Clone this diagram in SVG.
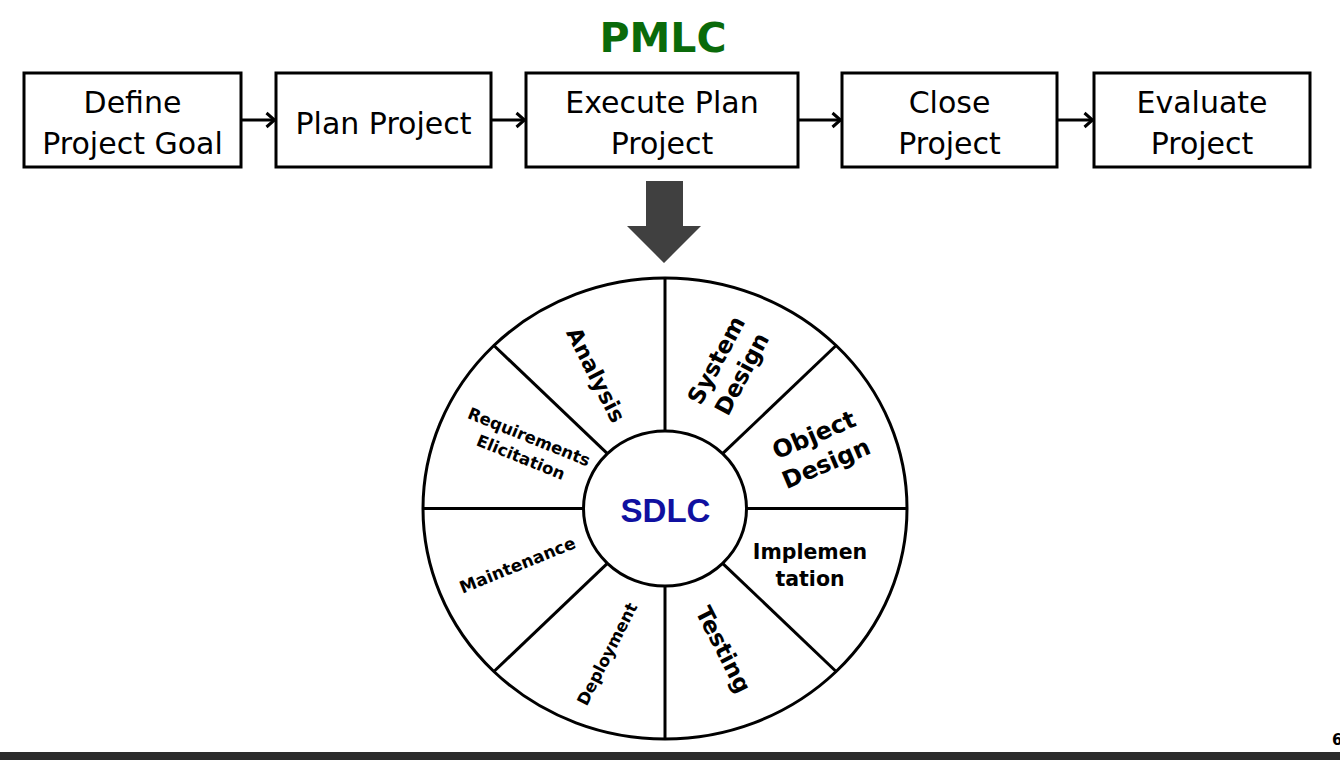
<svg xmlns="http://www.w3.org/2000/svg" width="1340" height="760" viewBox="0 0 1340 760">
<defs>
<style>
.box{fill:#fff;stroke:#000;stroke-width:3}
.bt{font-family:"DejaVu Sans",Verdana,sans-serif;font-size:30px;fill:#000;text-anchor:middle}
.conn{stroke:#000;stroke-width:3;fill:none}
.wh{stroke:#000;stroke-width:3;fill:none}
.lb{font-family:"DejaVu Sans",Verdana,sans-serif;font-weight:bold;fill:#000;text-anchor:middle}
</style>
<marker id="ah" viewBox="0 0 12 18" refX="10.5" refY="9" markerWidth="12" markerHeight="18" markerUnits="userSpaceOnUse" orient="auto">
<path d="M2,2 L10,9 L2,16" fill="none" stroke="#000" stroke-width="3"/>
</marker>
</defs>
<rect width="1340" height="760" fill="#fff"/>
<text x="663" y="52" font-family="DejaVu Sans,Verdana,sans-serif" font-weight="bold" font-size="41" fill="#0a6a0a" text-anchor="middle">PMLC</text>

<g id="connectors">
<line class="conn" x1="241" y1="120" x2="275" y2="120" marker-end="url(#ah)"/>
<line class="conn" x1="491" y1="120" x2="525" y2="120" marker-end="url(#ah)"/>
<line class="conn" x1="798" y1="120" x2="841" y2="120" marker-end="url(#ah)"/>
<line class="conn" x1="1057" y1="120" x2="1093" y2="120" marker-end="url(#ah)"/>
<polygon points="646,181 683,181 683,226 701,226 664,263 627,226 646,226" fill="#404040"/>
</g>

<g id="define">
<rect class="box" x="24" y="73" width="217" height="94"/>
<text class="bt" x="132.5" y="113">Define</text>
<text class="bt" x="132.5" y="154">Project Goal</text>
</g>
<g id="plan">
<rect class="box" x="276" y="73" width="215" height="94"/>
<text class="bt" x="383.5" y="134">Plan Project</text>
</g>
<g id="execute">
<rect class="box" x="526" y="73" width="272" height="94"/>
<text class="bt" x="662" y="113">Execute Plan</text>
<text class="bt" x="662" y="154">Project</text>
</g>
<g id="close">
<rect class="box" x="842" y="73" width="215" height="94"/>
<text class="bt" x="949.5" y="113">Close</text>
<text class="bt" x="949.5" y="154">Project</text>
</g>
<g id="evaluate">
<rect class="box" x="1094" y="73" width="216" height="94"/>
<text class="bt" x="1202" y="113">Evaluate</text>
<text class="bt" x="1202" y="154">Project</text>
</g>

<g id="sdlc-wheel">
<ellipse class="wh" cx="665" cy="508.5" rx="242" ry="230.5"/>
<line class="wh" x1="665" y1="278" x2="665" y2="431"/>
<line class="wh" x1="665" y1="586" x2="665" y2="739"/>
<line class="wh" x1="423" y1="508.5" x2="583.5" y2="508.5"/>
<line class="wh" x1="746.5" y1="508.5" x2="907" y2="508.5"/>
<line class="wh" x1="493.9" y1="345.5" x2="607.4" y2="453.7"/>
<line class="wh" x1="836.1" y1="345.5" x2="722.6" y2="453.7"/>
<line class="wh" x1="493.9" y1="671.5" x2="607.4" y2="563.3"/>
<line class="wh" x1="836.1" y1="671.5" x2="722.6" y2="563.3"/>
<ellipse class="wh" cx="665" cy="508.5" rx="81.5" ry="77.5" fill="#fff"/>
</g>

<g id="sdlc">
<text x="665.5" y="522" font-family="Liberation Sans,Arial,sans-serif" font-weight="bold" font-size="33" fill="#1010a0" text-anchor="middle" textLength="90" lengthAdjust="spacingAndGlyphs">SDLC</text>
</g>
<g id="analysis" transform="translate(596,375) rotate(63)">
<text class="lb" font-size="22" y="7.7">Analysis</text>
</g>
<g id="system-design" transform="translate(729,367) rotate(-62)">
<text class="lb" font-size="23" y="-6.5">System</text>
<text class="lb" font-size="23" y="22.5">Design</text>
</g>
<g id="object-design" transform="translate(820,449) rotate(-23)">
<text class="lb" font-size="24" y="-7.1">Object</text>
<text class="lb" font-size="24" y="23.9">Design</text>
</g>
<g id="implementation">
<text class="lb" font-size="20.5" x="810" y="559">Implemen</text>
<text class="lb" font-size="20.5" x="810" y="586">tation</text>
</g>
<g id="testing" transform="translate(723.5,649.5) rotate(63)">
<text class="lb" font-size="23" y="8">Testing</text>
</g>
<g id="deployment" transform="translate(607,654) rotate(-63)">
<text class="lb" font-size="16.5" y="5.8">Deployment</text>
</g>
<g id="maintenance" transform="translate(517.5,565) rotate(-22)">
<text class="lb" font-size="17" y="6">Maintenance</text>
</g>
<g id="requirements" transform="translate(525,447) rotate(22)">
<text class="lb" font-size="16.5" y="-5.2">Requirements</text>
<text class="lb" font-size="16.5" y="16.8">Elicitation</text>
</g>

<rect x="0" y="752" width="1340" height="8" fill="#2b2b2b"/>
<text x="1332" y="745" font-family="DejaVu Sans,Verdana,sans-serif" font-weight="bold" font-size="15" fill="#000">6</text>
</svg>
